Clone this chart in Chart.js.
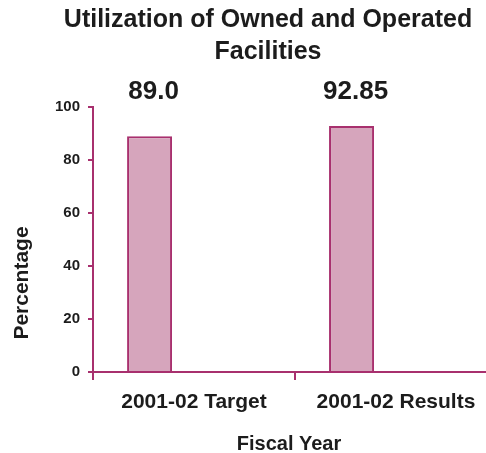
<!DOCTYPE html>
<html>
<head>
<meta charset="utf-8">
<script src="https://cdn.jsdelivr.net/npm/chart.js"></script>
<style>
    body { margin: 0; background: #fff; overflow: hidden; }
    #wrap { width: 486px; height: 453px; overflow: hidden; }
</style>
</head>
<body>
<div id="wrap"><canvas id="chart" width="500" height="453"></canvas></div>
<script>
// data
const categories = ['2001-02 Target', '2001-02 Results'];
const utilization = [89.0, 92.85];
const valueLabels = ['89.0', '92.85'];
const titleLines = ['Utilization of Owned and Operated', 'Facilities'];
const yTicks = [0, 20, 40, 60, 80, 100];

const MAGENTA = '#a8306e';
const FILL = '#d6a5bc';
const TEXT = '#1c1c1c';
const FONT = "'Liberation Sans', Arial, sans-serif";

// title, axis titles and the numbers over the bars
const textPlugin = {
    id: 'texts',
    afterDraw(chart) {
        const ctx = chart.ctx;
        ctx.save();
        ctx.fillStyle = TEXT;
        ctx.textAlign = 'center';
        ctx.textBaseline = 'middle';

        ctx.font = 'bold 25px ' + FONT;
        titleLines.forEach((t, i) => ctx.fillText(t, 268, 20 + i * 32));

        ctx.font = 'bold 26px ' + FONT;
        chart.getDatasetMeta(0).data.forEach((bar, i) => {
            ctx.fillText(valueLabels[i], bar.x + 4, 92);
        });

        ctx.font = 'bold 20px ' + FONT;
        ctx.fillText('Fiscal Year', 289, 444);

        ctx.font = 'bold 21px ' + FONT;
        ctx.translate(22, 283);
        ctx.rotate(-Math.PI / 2);
        ctx.fillText('Percentage', 0, 0);
        ctx.restore();
    }
};

new Chart(document.getElementById('chart'), {
    type: 'bar',
    data: {
        labels: categories,
        datasets: [
            {
                data: utilization,
                backgroundColor: FILL,
                borderColor: MAGENTA,
                borderWidth: 2,
                categoryPercentage: 0.88,
                barPercentage: 0.506
            },
            {
                // empty slot so the bars sit left of centre like the original
                data: categories.map(() => null),
                categoryPercentage: 0.88,
                barPercentage: 0.506
            }
        ]
    },
    options: {
        responsive: false,
        animation: false,
        layout: { padding: { top: 107, right: 3, left: 0, bottom: 0 } },
        plugins: { legend: { display: false }, tooltip: { enabled: false } },
        scales: {
            x: {
                border: { color: MAGENTA, width: 2 },
                grid: { drawOnChartArea: false, color: MAGENTA, lineWidth: 2, tickLength: 8 },
                ticks: { color: TEXT, font: { family: FONT, size: 21, weight: 'bold' }, padding: 10, maxRotation: 0 },
                afterFit(scale) { scale.height = 81; }
            },
            y: {
                min: 0,
                max: 100,
                border: { color: MAGENTA, width: 2 },
                grid: { drawOnChartArea: false, color: MAGENTA, lineWidth: 2, tickLength: 5 },
                ticks: {
                    stepSize: 20,
                    color: TEXT,
                    padding: 8,
                    font: { family: FONT, size: 15, weight: 'bold' },
                    callback: (v) => yTicks.includes(v) ? v : ''
                },
                afterFit(scale) { scale.width = 93; }
            }
        }
    },
    plugins: [textPlugin]
});
</script>
</body>
</html>
